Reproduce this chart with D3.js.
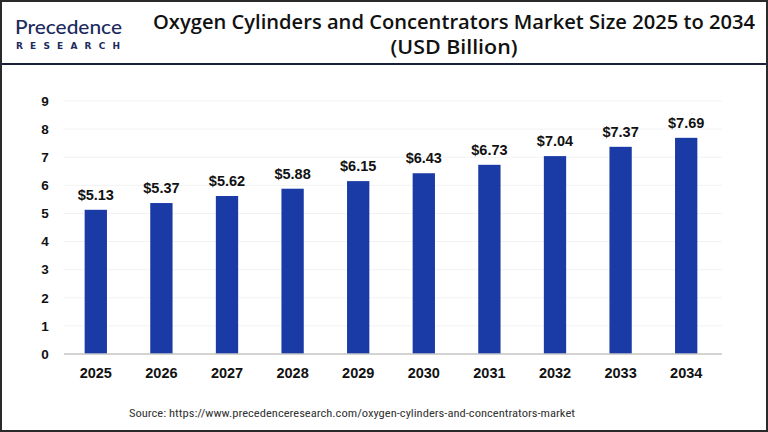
<!DOCTYPE html>
<html><head><meta charset="utf-8">
<script src="https://cdn.jsdelivr.net/npm/d3@7"></script>
<style>body{margin:0;background:#fff}svg{display:block}</style>
</head><body>
<svg id="c" width="768" height="432"></svg>
<script>
const years = ["2025","2026","2027","2028","2029","2030","2031","2032","2033","2034"];
const values = [5.13,5.37,5.62,5.88,6.15,6.43,6.73,7.04,7.37,7.69];
const yTicks = [0,1,2,3,4,5,6,7,8,9];
const titleLines = ["Oxygen Cylinders and Concentrators Market Size 2025 to 2034","(USD Billion)"];
const sourceText = "Source: https://www.precedenceresearch.com/oxygen-cylinders-and-concentrators-market";

const svg = d3.select("#c");
const W = 768, H = 432;
svg.append("rect").attr("x",0).attr("y",0).attr("width",W).attr("height",H).attr("fill","#fff");

// header
svg.append("text").attr("x",454).attr("y",29).attr("text-anchor","middle")
  .attr("font-family","Open Sans, sans-serif").attr("font-weight",600).attr("font-size",19.5).attr("fill","#111")
  .attr("textLength",602).attr("lengthAdjust","spacingAndGlyphs")
  .text(titleLines[0]);
svg.append("text").attr("x",454).attr("y",54).attr("text-anchor","middle")
  .attr("font-family","Open Sans, sans-serif").attr("font-weight",600).attr("font-size",19.5).attr("fill","#111")
  .attr("textLength",127).attr("lengthAdjust","spacingAndGlyphs")
  .text(titleLines[1]);

// logo
const logo = svg.append("g");
logo.append("text").attr("x",15).attr("y",34).attr("font-family","Lato, sans-serif").attr("font-weight",500)
  .attr("font-size",20).attr("fill","#1c2a5e").attr("textLength",107).attr("lengthAdjust","spacingAndGlyphs").text("Precedence");
logo.append("text").attr("x",16).attr("y",48.5).attr("font-family","DejaVu Sans, sans-serif").attr("font-weight",700)
  .attr("font-size",9).attr("fill","#1c2a5e").attr("textLength",104).text("RESEARCH");

svg.append("line").attr("x1",0).attr("x2",W).attr("y1",64).attr("y2",64).attr("stroke","#1c1f3a").attr("stroke-width",2);

// chart
const x = d3.scaleBand().domain(years).range([63,719]).paddingInner(0.66).paddingOuter(0.33);
const y = d3.scaleLinear().domain([0,9]).range([354,101]);

const grid = svg.append("g");
grid.selectAll("line").data(yTicks.filter(d=>d>0)).join("line")
  .attr("x1",64).attr("x2",722).attr("y1",d=>y(d)).attr("y2",d=>y(d))
  .attr("stroke","#f2f2f2").attr("stroke-width",1);

const yAxis = svg.append("g").attr("transform","translate(50,0)")
  .call(d3.axisLeft(y).tickValues(yTicks).tickSize(0).tickPadding(0).tickFormat(d3.format("d")));
yAxis.select(".domain").remove();
yAxis.selectAll("text").attr("font-family","Liberation Sans, Arial, sans-serif").attr("font-weight",700)
  .attr("font-size",13.5).attr("fill","#111").attr("text-anchor","middle").attr("x",-5);

svg.append("g").selectAll("rect").data(values).join("rect")
  .attr("x",(d,i)=>x(years[i])).attr("width",x.bandwidth())
  .attr("y",d=>y(d)).attr("height",d=>y(0)-y(d)).attr("fill","#1a3aa6");

svg.append("g").selectAll("text").data(values).join("text")
  .attr("x",(d,i)=>x(years[i])+x.bandwidth()/2).attr("y",d=>y(d)-10)
  .attr("text-anchor","middle").attr("font-family","Liberation Sans, Arial, sans-serif").attr("font-weight",700)
  .attr("font-size",14.5).attr("fill","#111").text(d=>"$"+d.toFixed(2));

svg.append("line").attr("x1",64).attr("x2",722).attr("y1",y(0)).attr("y2",y(0)).attr("stroke","#c4c4c4").attr("stroke-width",1.5);

const xAxis = svg.append("g").attr("transform",`translate(0,${y(0)})`)
  .call(d3.axisBottom(x).tickSize(0).tickPadding(14));
xAxis.select(".domain").remove();
xAxis.selectAll("text").attr("font-family","Liberation Sans, Arial, sans-serif").attr("font-weight",700)
  .attr("font-size",14.5).attr("fill","#111");

svg.append("text").attr("x",352).attr("y",417).attr("text-anchor","middle")
  .attr("font-family","Liberation Sans Narrow, Roboto Condensed, Roboto, sans-serif").attr("font-size",11).attr("fill","#333")
  .attr("textLength",446).attr("lengthAdjust","spacingAndGlyphs").text(sourceText);

// outer border
svg.append("rect").attr("x",1).attr("y",1).attr("width",W-2).attr("height",H-2)
  .attr("fill","none").attr("stroke","#2a2a2a").attr("stroke-width",2);
</script>
</body></html>
